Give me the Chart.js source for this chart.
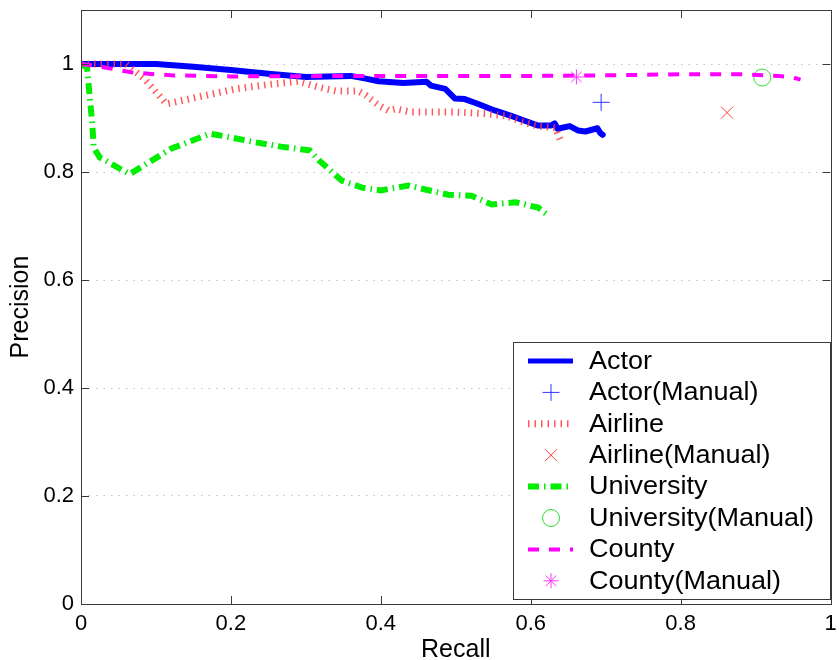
<!DOCTYPE html>
<html>
<head>
<meta charset="utf-8">
<title>Precision / Recall</title>
<script src="https://cdn.jsdelivr.net/npm/chart.js@4.4.1/dist/chart.umd.min.js"></script>
<style>
  html, body { margin: 0; padding: 0; background: #fff; }
  #wrap { width: 840px; height: 660px; }
</style>
</head>
<body>
<div id="wrap"><canvas id="chart" width="840" height="660"></canvas></div>
<script>
'use strict';

// ── Data : [recall, precision] ──
const ACTOR = [
  [0, 1], [0.1, 1], [0.15, 0.995], [0.2, 0.989], [0.25, 0.982], [0.3, 0.976],
  [0.36, 0.978], [0.38, 0.973], [0.397, 0.968], [0.43, 0.965], [0.461, 0.967],
  [0.467, 0.96], [0.486, 0.954], [0.499, 0.936], [0.512, 0.935], [0.53, 0.926],
  [0.552, 0.914], [0.574, 0.904], [0.592, 0.895], [0.61, 0.886], [0.627, 0.886],
  [0.632, 0.89], [0.636, 0.88], [0.652, 0.885], [0.663, 0.877], [0.673, 0.875],
  [0.689, 0.881], [0.693, 0.872], [0.696, 0.869]
];
const ACTOR_MANUAL = [[0.694, 0.929]];

const AIRLINE = [
  [0, 1], [0.06, 1], [0.085, 0.972], [0.114, 0.926], [0.15, 0.937], [0.207, 0.954],
  [0.25, 0.962], [0.29, 0.968], [0.32, 0.956], [0.34, 0.95], [0.37, 0.95],
  [0.38, 0.942], [0.398, 0.923], [0.41, 0.914], [0.42, 0.917], [0.44, 0.911],
  [0.5, 0.911], [0.54, 0.908], [0.567, 0.904], [0.593, 0.891], [0.61, 0.885],
  [0.633, 0.882], [0.64, 0.857]
];
const AIRLINE_MANUAL = [[0.862, 0.91]];

const UNIVERSITY = [
  [0, 1], [0.008, 0.993], [0.015, 0.89], [0.017, 0.845], [0.025, 0.827],
  [0.065, 0.796], [0.12, 0.843], [0.172, 0.871], [0.2, 0.864], [0.233, 0.855],
  [0.267, 0.847], [0.305, 0.84], [0.318, 0.821], [0.348, 0.784], [0.375, 0.771],
  [0.4, 0.766], [0.437, 0.775], [0.455, 0.769], [0.49, 0.758], [0.521, 0.756],
  [0.548, 0.74], [0.58, 0.744], [0.61, 0.734], [0.624, 0.719]
];
const UNIVERSITY_MANUAL = [[0.909, 0.975]];

const COUNTY = [
  [0, 1], [0.03, 0.994], [0.07, 0.984], [0.12, 0.979], [0.2, 0.977], [0.4, 0.978],
  [0.6, 0.978], [0.7, 0.979], [0.8, 0.981], [0.88, 0.981], [0.93, 0.978],
  [0.95, 0.975], [0.96, 0.971]
];
const COUNTY_MANUAL = [[0.661, 0.976]];

const X_TICKS = [0, 0.2, 0.4, 0.6, 0.8, 1];
const X_TICK_LABELS = ['0', '0.2', '0.4', '0.6', '0.8', '1'];
const Y_TICKS = [0, 0.2, 0.4, 0.6, 0.8, 1];
const Y_TICK_LABELS = ['0', '0.2', '0.4', '0.6', '0.8', '1'];

const FONT = "'Liberation Sans', Arial, Helvetica, sans-serif";
const TICK = 8;

function xy(pairs) {
  return pairs.map(function (p) { return { x: p[0], y: p[1] }; });
}

// ── Box + inward ticks (MATLAB style) ─────────────────
const frame = {
  id: 'frame',
  afterDatasetsDraw(chart) {
    const ctx = chart.ctx, a = chart.chartArea, x = chart.scales.x, y = chart.scales.y;
    ctx.save();
    ctx.strokeStyle = '#3a3a3a';
    ctx.lineWidth = 1;
    ctx.setLineDash([]);
    ctx.beginPath();
    X_TICKS.forEach(function (v) {
      const px = Math.round(x.getPixelForValue(v)) + 0.5;
      ctx.moveTo(px, a.bottom); ctx.lineTo(px, a.bottom - TICK);
      ctx.moveTo(px, a.top); ctx.lineTo(px, a.top + TICK);
    });
    Y_TICKS.forEach(function (v) {
      const py = Math.round(y.getPixelForValue(v)) + 0.5;
      ctx.moveTo(a.left, py); ctx.lineTo(a.left + TICK, py);
      ctx.moveTo(a.right, py); ctx.lineTo(a.right - TICK, py);
    });
    ctx.stroke();
    ctx.strokeRect(Math.round(a.left) + 0.5, Math.round(a.top) + 0.5,
      Math.round(a.right - a.left), Math.round(a.bottom - a.top));
    ctx.restore();
  }
};

// ── Legend box inside the axes, lower right ───────────
const boxLegend = {
  id: 'boxLegend',
  afterDraw(chart) {
    const ctx = chart.ctx;
    const left = 513, top = 342, w = 317, h = 257;
    const rowY = 361, rowH = 31.4;
    ctx.save();
    ctx.fillStyle = '#fff';
    ctx.fillRect(left, top, w, h);
    ctx.strokeStyle = '#3a3a3a';
    ctx.lineWidth = 1;
    ctx.strokeRect(left + 0.5, top + 0.5, w, h);

    chart.data.datasets.forEach(function (ds, i) {
      const cy = rowY + i * rowH;
      ctx.save();
      if (ds.showLine) {
        ctx.strokeStyle = ds.borderColor;
        ctx.lineWidth = ds.legendWidth || ds.borderWidth;
        ctx.setLineDash(ds.borderDash || []);
        ctx.lineCap = 'butt';
        ctx.beginPath();
        ctx.moveTo(528, cy);
        ctx.lineTo(573, cy);
        ctx.stroke();
      } else {
        ctx.strokeStyle = ds.borderColor;
        ctx.fillStyle = 'rgba(0,0,0,0)';
        ctx.lineWidth = ds.borderWidth;
        Chart.helpers.drawPoint(ctx, {
          pointStyle: ds.pointStyle, radius: ds.pointRadius, rotation: 0, borderWidth: ds.borderWidth
        }, 551, cy);
      }
      ctx.restore();
      // text is a bit wider than plain Arial in the reference
      ctx.save();
      ctx.translate(589, cy + 1);
      ctx.scale(1.08, 1);
      ctx.fillStyle = '#000';
      ctx.font = '25px ' + FONT;
      ctx.textBaseline = 'middle';
      ctx.textAlign = 'left';
      ctx.fillText(ds.label, 0, 0);
      ctx.restore();
    });
    ctx.restore();
  }
};

function lineSet(label, data, color, width, dash, order, extra) {
  return Object.assign({
    label: label, data: xy(data), showLine: true, borderColor: color, backgroundColor: color,
    borderWidth: width, borderDash: dash, pointRadius: 0, tension: 0, order: order
  }, extra || {});
}

function markSet(label, data, color, style, radius, order) {
  return {
    label: label, data: xy(data), showLine: false, borderColor: color,
    backgroundColor: 'rgba(0,0,0,0)', pointStyle: style, pointRadius: radius,
    borderWidth: 1, order: order
  };
}

new Chart(document.getElementById('chart'), {
  type: 'scatter',
  data: {
    datasets: [
      lineSet('Actor', ACTOR, '#0000ff', 6, [], 8, { borderJoinStyle: 'round', borderCapStyle: 'round', legendWidth: 5 }),
      markSet('Actor(Manual)', ACTOR_MANUAL, '#3333ff', 'cross', 8.5, 7),
      lineSet('Airline', AIRLINE, 'rgba(255,60,60,0.85)', 7, [1.5, 5], 6),
      markSet('Airline(Manual)', AIRLINE_MANUAL, '#ff4040', 'crossRot', 8.5, 5),
      lineSet('University', UNIVERSITY, '#00ee00', 6, [11, 5, 1.5, 5], 4),
      markSet('University(Manual)', UNIVERSITY_MANUAL, '#33dd33', 'circle', 8.5, 3),
      lineSet('County', COUNTY, '#ff00ff', 4, [11, 10], 2),
      markSet('County(Manual)', COUNTY_MANUAL, '#ff33ff', 'star', 7.5, 1)
    ]
  },
  options: {
    responsive: false,
    animation: false,
    devicePixelRatio: 1,
    layout: { padding: { top: 10, right: 6, left: 0, bottom: 0 } },
    plugins: { legend: { display: false }, tooltip: { enabled: false } },
    scales: {
      x: {
        type: 'linear', min: 0, max: 1,
        afterBuildTicks: function (s) { s.ticks = X_TICKS.map(function (v) { return { value: v }; }); },
        afterFit: function (s) { s.height = 56; s.paddingLeft = 0; s.paddingRight = 0; },
        grid: { display: false, drawTicks: false },
        border: { display: false },
        ticks: {
          padding: 7, color: '#000', font: { size: 22, family: FONT }, maxRotation: 0,
          callback: function (v, i) { return X_TICK_LABELS[i]; }
        },
        title: { display: true, text: 'Recall', color: '#000', font: { size: 25, family: FONT }, padding: { top: 0, bottom: -5 } }
      },
      y: {
        type: 'linear', min: 0, max: 1.1,
        afterBuildTicks: function (s) { s.ticks = Y_TICKS.map(function (v) { return { value: v }; }); },
        afterFit: function (s) { s.width = 81; s.paddingTop = 0; s.paddingBottom = 0; },
        grid: { color: '#c4c4c4', lineWidth: 1, drawTicks: false },
        border: { display: false, dash: [1.5, 6] },
        ticks: {
          padding: 7, color: '#000', font: { size: 22, family: FONT },
          callback: function (v, i) { return Y_TICK_LABELS[i]; }
        },
        title: { display: true, text: 'Precision', color: '#000', font: { size: 25, family: FONT }, padding: { top: 6, bottom: 0 } }
      }
    }
  },
  plugins: [frame, boxLegend]
});
</script>
</body>
</html>
